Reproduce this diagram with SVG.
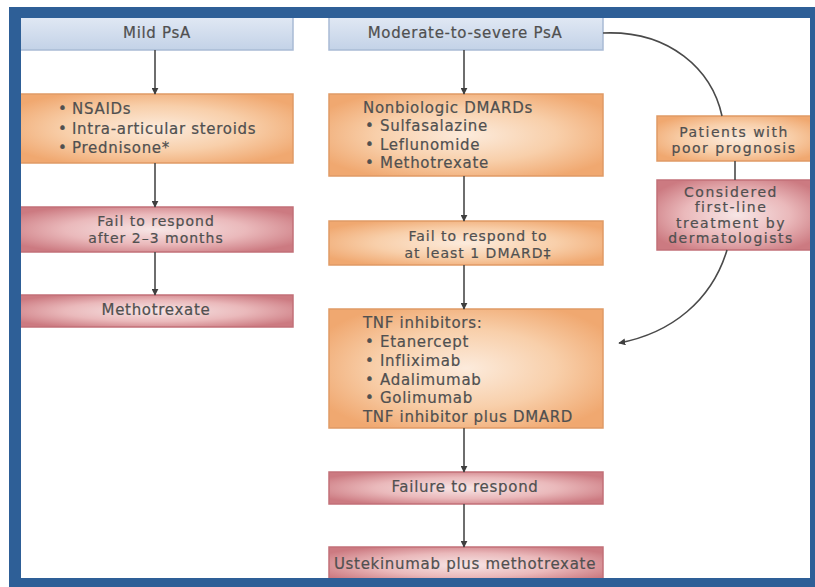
<svg xmlns="http://www.w3.org/2000/svg" width="815" height="587" viewBox="0 0 815 587">
<defs>
<linearGradient id="gBlue" x1="0" y1="0" x2="0" y2="1">
<stop offset="0" stop-color="#e3eaf5"/><stop offset="1" stop-color="#c3d2e7"/>
</linearGradient>
<radialGradient id="gOrange" cx="0.5" cy="0.5" r="0.6">
<stop offset="0" stop-color="#fcebdc"/><stop offset="0.55" stop-color="#f8cfaa"/><stop offset="1" stop-color="#f0a870"/>
</radialGradient>
<radialGradient id="gPink" cx="0.5" cy="0.5" r="0.6">
<stop offset="0" stop-color="#f7e6e6"/><stop offset="0.55" stop-color="#eab9bb"/><stop offset="1" stop-color="#cc7a81"/>
</radialGradient>
<marker id="ah" viewBox="0 0 10 10" refX="9" refY="5" markerWidth="7" markerHeight="7" markerUnits="userSpaceOnUse" orient="auto">
<path d="M0,0 L10,5 L0,10 Z" fill="#3f3f3f"/>
</marker>
</defs>
<style>
.blue{fill:url(#gBlue);stroke:#a9bbd5;stroke-width:1.5}
.orange{fill:url(#gOrange);stroke:#e09a66;stroke-width:1.5}
.pink{fill:url(#gPink);stroke:#c27078;stroke-width:1.5}
text{font-family:"DejaVu Sans","Liberation Sans",sans-serif;font-size:15px;fill:#505050;stroke:#505050;stroke-width:0.2;letter-spacing:0.7px}
.c{text-anchor:middle}
.t{font-size:14px;letter-spacing:1px}
.r{font-size:14px;letter-spacing:1.5px}
.edge{fill:none;stroke:#4a4a4a;stroke-width:1.6}
</style>
<rect x="0" y="0" width="815" height="587" fill="#fff"/>

<g id="mild">
<rect class="blue" x="18" y="14" width="275" height="36"/>
<text class="c" x="157" y="38">Mild PsA</text>
</g>
<g id="nsaids">
<rect class="orange" x="18" y="94" width="275" height="69"/>
<text x="58" y="114">•<tspan x="72">NSAIDs</tspan></text>
<text x="58" y="134">•<tspan x="72">Intra-articular steroids</tspan></text>
<text x="58" y="153">•<tspan x="72">Prednisone*</tspan></text>
</g>
<g id="fail1">
<rect class="pink" x="18" y="207" width="275" height="45"/>
<text class="c t" x="156" y="226">Fail to respond</text>
<text class="c t" x="156" y="243">after 2–3 months</text>
</g>
<g id="mtx1">
<rect class="pink" x="18" y="295" width="275" height="32"/>
<text class="c" x="156" y="315">Methotrexate</text>
</g>

<g id="modsev">
<rect class="blue" x="329" y="14" width="274" height="36"/>
<text class="c" x="465" y="38">Moderate-to-severe PsA</text>
</g>
<g id="dmards">
<rect class="orange" x="329" y="94" width="274" height="82"/>
<text x="363" y="113">Nonbiologic DMARDs</text>
<text x="365" y="131">•<tspan x="380">Sulfasalazine</tspan></text>
<text x="365" y="150">•<tspan x="380">Leflunomide</tspan></text>
<text x="365" y="168">•<tspan x="380">Methotrexate</tspan></text>
</g>
<g id="fail2">
<rect class="orange" x="329" y="221" width="274" height="44"/>
<text class="c t" x="478" y="241">Fail to respond to</text>
<text class="c t" x="478" y="258">at least 1 DMARD‡</text>
</g>
<g id="tnf">
<rect class="orange" x="329" y="309" width="274" height="119"/>
<text x="363" y="328">TNF inhibitors:</text>
<text x="365" y="347">•<tspan x="380">Etanercept</tspan></text>
<text x="365" y="366">•<tspan x="380">Infliximab</tspan></text>
<text x="365" y="385">•<tspan x="380">Adalimumab</tspan></text>
<text x="365" y="403">•<tspan x="380">Golimumab</tspan></text>
<text x="363" y="422">TNF inhibitor plus DMARD</text>
</g>
<g id="fail3">
<rect class="pink" x="329" y="472" width="274" height="32"/>
<text class="c" x="465" y="492">Failure to respond</text>
</g>
<g id="uste">
<rect class="pink" x="329" y="547" width="274" height="36"/>
<text class="c" x="465" y="569">Ustekinumab plus methotrexate</text>
</g>

<g id="poor">
<rect class="orange" x="657" y="116" width="160" height="45"/>
<text class="c r" x="734" y="137">Patients with</text>
<text class="c r" x="734" y="153">poor prognosis</text>
</g>
<g id="derm">
<rect class="pink" x="657" y="180" width="160" height="70"/>
<text class="c r" x="731" y="196.5">Considered</text>
<text class="c r" x="731" y="212">first-line</text>
<text class="c r" x="731" y="227.5">treatment by</text>
<text class="c r" x="731" y="243">dermatologists</text>
</g>

<g id="connectors">
<line class="edge" x1="155" y1="50" x2="155" y2="94" marker-end="url(#ah)"/>
<line class="edge" x1="155" y1="163" x2="155" y2="207" marker-end="url(#ah)"/>
<line class="edge" x1="155" y1="252" x2="155" y2="295" marker-end="url(#ah)"/>
<line class="edge" x1="464" y1="50" x2="464" y2="94" marker-end="url(#ah)"/>
<line class="edge" x1="464" y1="176" x2="464" y2="221" marker-end="url(#ah)"/>
<line class="edge" x1="464" y1="265" x2="464" y2="309" marker-end="url(#ah)"/>
<line class="edge" x1="464" y1="428" x2="464" y2="472" marker-end="url(#ah)"/>
<line class="edge" x1="464" y1="504" x2="464" y2="547" marker-end="url(#ah)"/>
<path class="edge" d="M603,33 C670,30 712,70 722,116"/>
<line class="edge" x1="735" y1="161" x2="735" y2="180"/>
<path class="edge" d="M727,250 C712,300 672,333 619,343" marker-end="url(#ah)"/>
</g>

<path d="M9,7 H815 V587 H9 Z M21,18 V578 H810 V18 Z" fill="#2e5f97" fill-rule="evenodd"/>
</svg>
